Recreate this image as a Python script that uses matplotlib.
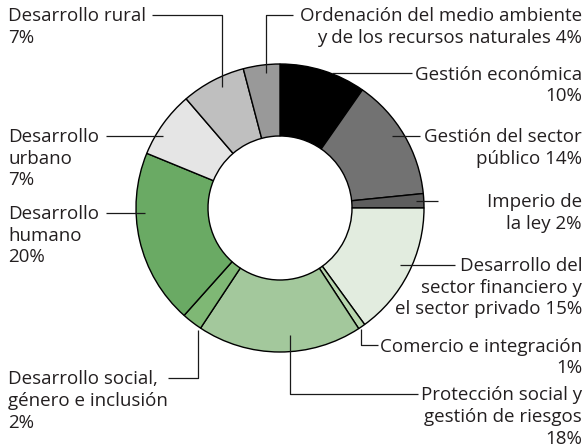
import matplotlib.pyplot as plt

# shares (clockwise from 12 o'clock)
sectors = ["Gestión económica", "Gestión del sector público", "Imperio de la ley",
           "Desarrollo del sector financiero y el sector privado", "Comercio e integración",
           "Protección social y gestión de riesgos", "Desarrollo social, género e inclusión",
           "Desarrollo humano", "Desarrollo urbano", "Desarrollo rural",
           "Ordenación del medio ambiente y de los recursos naturales"]
shares = [9.7, 13.7, 1.6, 15.0, 0.8, 18.5, 2.3, 19.6, 7.5, 7.2, 4.1]
pct_labels = ["10%", "14%", "2%", "15%", "1%", "18%", "2%", "20%", "7%", "7%", "4%"]
colors = ["#000000", "#727272", "#5e5e5e", "#e2ecdf", "#b8d6ae", "#a3c89c",
          "#7fb875", "#6aaa64", "#e5e5e5", "#bfbfbf", "#999999"]

W, H = 587, 447
plt.rcParams["font.family"] = ["Open Sans", "DejaVu Sans"]
fig = plt.figure(figsize=(W / 100, H / 100), dpi=100)
ax = fig.add_axes([0, 0, 1, 1])


def py(y):
    # picture rows run downward
    return H - y


cx, cy, R = 280, 208, 144
ax.pie(shares, colors=colors, startangle=90, counterclock=False,
       center=(cx, py(cy)), radius=R, frame=True,
       wedgeprops=dict(width=R / 2, edgecolor="black", linewidth=1))
ax.set_xlim(0, W)
ax.set_ylim(0, H)
ax.set_aspect("equal")
ax.axis("off")

fs = 13.5
step = 21.7
lc = "#1a1a1a"
lw = 0.9


def leader(pts):
    ax.plot([p[0] for p in pts], [py(p[1]) for p in pts], color=lc, lw=lw,
            solid_capstyle="butt")


def label(x, base, lines, ha):
    for i, t in enumerate(lines):
        ax.text(x, py(base + i * step), t, ha=ha, va="baseline", fontsize=fs,
                color="#231f20")


# left side
label(8, 21, ["Desarrollo rural", pct_labels[9]], "left")
leader([(152, 15), (222, 15), (222, 87)])

label(8, 142, ["Desarrollo", "urbano", pct_labels[8]], "left")
leader([(106, 135.5), (163, 135.5)])

label(8, 219, ["Desarrollo", "humano", pct_labels[7]], "left")
leader([(106, 213), (145, 213)])

label(8, 384.5, ["Desarrollo social,", "género e inclusión", pct_labels[6]], "left")
leader([(168, 378), (198, 378), (198, 330)])

# right side
label(582, 21, ["Ordenación del medio ambiente",
                "y de los recursos naturales " + pct_labels[10]], "right")
leader([(293, 15), (266, 15), (266, 73)])

label(582, 79.5, ["Gestión económica", pct_labels[0]], "right")
leader([(332, 73), (412, 73)])

label(582, 142, ["Gestión del sector", "público " + pct_labels[1]], "right")
leader([(392, 135.5), (420, 135.5)])

label(582, 207, ["Imperio de", "la ley " + pct_labels[2]], "right")
leader([(416, 200.7), (438, 200.7)])

label(582, 271, ["Desarrollo del", "sector financiero y",
                 "el sector privado " + pct_labels[3]], "right")
leader([(400, 264.5), (455, 264.5)])

label(582, 351.5, ["Comercio e integración", pct_labels[4]], "right")
leader([(361, 329), (361, 345), (378, 345)])

label(582, 400.5, ["Protección social y", "gestión de riesgos", pct_labels[5]], "right")
leader([(290, 335), (290, 394), (418, 394)])

fig.savefig("out.png", dpi=100)
